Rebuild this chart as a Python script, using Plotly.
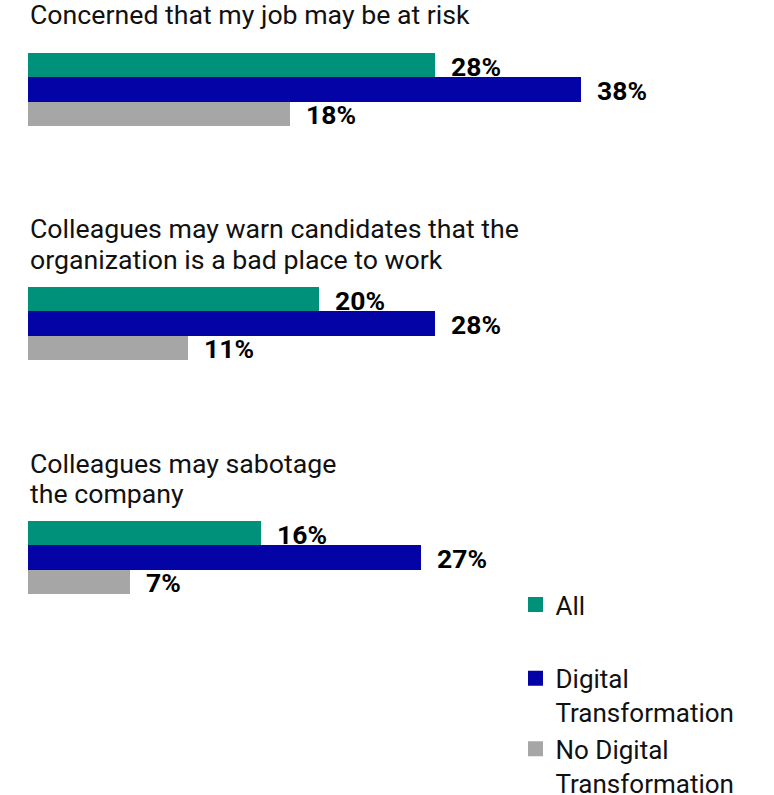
import plotly.graph_objects as go

# Survey statements and responses (percent)
questions = [
    ["Concerned that my job may be at risk"],
    ["Colleagues may warn candidates that the", "organization is a bad place to work"],
    ["Colleagues may sabotage", "the company"],
]
series = ["All", "Digital Transformation", "No Digital Transformation"]
legend_labels = ["All", "Digital<br>Transformation", "No Digital<br>Transformation"]
all_vals = [28, 20, 16]
dt_vals = [38, 28, 27]
ndt_vals = [18, 11, 7]
colors = ["#00917B", "#0303A6", "#A6A6A6"]

W, H = 774, 795
LEFT = 28
PX_PER_PCT = 14.55
XMAX = (W - LEFT) / PX_PER_PCT

FONT = "Roboto"

# pixel layout of each question block
bar_tops = [53, 287, 521]
bar_block = 73
title_line_centers = [[15], [229], [464]]
title_line_centers = [[15], [229, 260], [464, 494]]


def py(p):
    """Convert a pixel row (from the top) to paper coordinates."""
    return 1 - p / H


fig = go.Figure()
values_by_series = [all_vals, dt_vals, ndt_vals]

for i, lines in enumerate(questions):
    vals = [v[i] for v in values_by_series]
    ax = "" if i == 0 else str(i + 1)
    fig.add_trace(go.Bar(
        x=vals, y=series, orientation="h", width=1,
        marker=dict(color=colors, line=dict(width=0)),
        xaxis="x" + ax, yaxis="y" + ax,
        showlegend=False, hoverinfo="x+y",
    ))
    for s, v in zip(series, vals):
        fig.add_annotation(
            x=v, y=s, xref="x" + ax, yref="y" + ax,
            text=f"<b>{v}%</b>", showarrow=False,
            xanchor="left", yanchor="middle", xshift=14, yshift=-1,
            font=dict(family=FONT, size=26.5, color="#000000"),
        )
    for line, yc in zip(lines, title_line_centers[i]):
        fig.add_annotation(
            x=0, y=py(yc), xref="paper", yref="paper",
            text=line, showarrow=False, align="left",
            xanchor="left", yanchor="middle",
            font=dict(family=FONT, size=26.7, color="#111111"),
        )
    top, bottom = bar_tops[i], bar_tops[i] + bar_block
    fig.layout["xaxis" + ax] = dict(
        range=[0, XMAX], visible=False, anchor="y" + ax, domain=[0, 1],
        fixedrange=True,
    )
    fig.layout["yaxis" + ax] = dict(
        domain=[py(bottom), py(top)], anchor="x" + ax,
        range=[2.5, -0.5], autorange=False, visible=False,
        categoryorder="array", categoryarray=series, fixedrange=True,
    )

# legend entries ("All" on its own, the two transformation groups together)
groups = ["a", "b", "b"]
for name, c, g in zip(legend_labels, colors, groups):
    fig.add_trace(go.Scatter(
        x=[None], y=[None], mode="markers", name=name, legendgroup=g,
        marker=dict(symbol="square", size=15, color=c),
        xaxis="x", yaxis="y",
    ))

fig.update_layout(
    width=W, height=H,
    margin=dict(l=LEFT, r=0, t=0, b=0, autoexpand=False),
    paper_bgcolor="white", plot_bgcolor="white",
    barmode="group", bargap=0, bargroupgap=0,
    showlegend=True,
    legend=dict(
        x=(515.5 - LEFT) / (W - LEFT), y=py(581), xanchor="left", yanchor="top",
        font=dict(family=FONT, size=26, color="#111111"),
        valign="top", traceorder="grouped", tracegroupgap=37,
        itemsizing="trace", bgcolor="rgba(0,0,0,0)",
    ),
)

fig.write_html("out.html")
